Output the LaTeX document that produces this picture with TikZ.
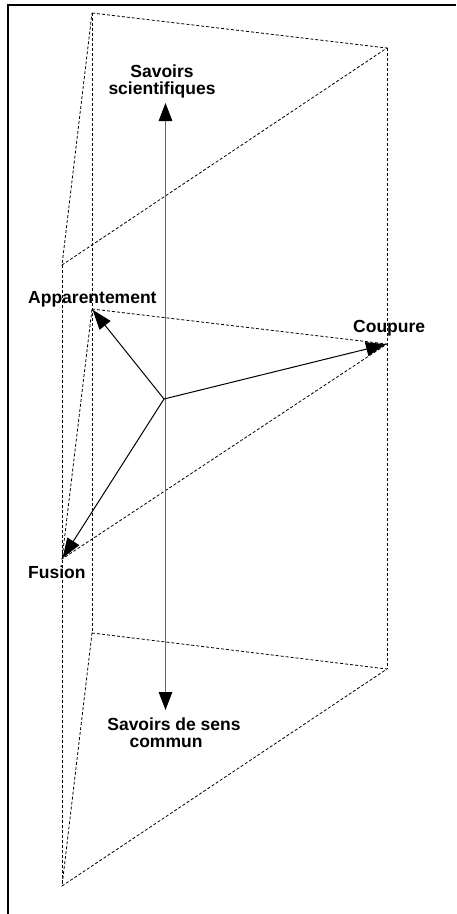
\documentclass[tikz,border=0pt]{standalone}
\usepackage{fontspec}
\setmainfont{Liberation Sans}
\usetikzlibrary{arrows.meta}
\begin{document}
\begin{tikzpicture}[x=1pt,y=-1pt,
  guide/.style={line width=0.8pt,dash pattern=on 3pt off 2pt,black},
  vec/.style={line width=1pt,-{Triangle[length=20pt,width=14pt]}},
  axis/.style={line width=1.3pt,black!60,{Triangle[length=18pt,width=13.5pt,color=black]}-{Triangle[length=18pt,width=13.5pt,color=black]}},
  lbl/.style={inner sep=0pt,font=\fontsize{17.5}{16.5}\selectfont\bfseries},
  frame/.style={line width=1.4pt}]
\useasboundingbox (0,0) rectangle (456,914);
% frame (only top and left edges visible)
\draw[frame] (456,5) -- (8,5) -- (8,914);
% prism corners
\coordinate (At) at (92,13);
\coordinate (Ct) at (387,48);
\coordinate (Ft) at (62,265);
\coordinate (Ab) at (92,633);
\coordinate (Cb) at (387,669);
\coordinate (Fb) at (62,886);
\coordinate (A) at (92,309);
\coordinate (C) at (387,344);
\coordinate (F) at (62,559);
\coordinate (O) at (164,399);
% dashed prism
\draw[guide] (At) -- (Ct) -- (Ft) -- cycle;
\draw[guide] (Ab) -- (Cb) -- (Fb) -- cycle;
\draw[guide] (A) -- (C) -- (F) -- cycle;
\draw[guide] (At) -- (Ab);
\draw[guide] (Ct) -- (Cb);
\draw[guide] (Ft) -- (Fb);
% axis
\coordinate (axT) at (165.5,103);
\coordinate (axB) at (165.5,710);
\draw[axis] (axB) -- (axT);
% vectors
\draw[vec,shorten >=1pt] (O) -- (A);
\draw[vec,shorten >=1pt] (O) -- (C);
\draw[vec,shorten >=1pt] (O) -- (F);
% labels (base anchor = baseline of the last line)
\node[lbl,anchor=base,align=center] (ss) at (162,94) {Savoirs\\scientifiques};
\node[lbl,anchor=base,align=center] (sc) at (174,747) {Savoirs de sens\\commun\hspace*{16pt}};
\node[lbl,anchor=base west] (ap) at (28,303) {Apparentement};
\node[lbl,anchor=base west] (co) at (353,332) {Coupure};
\node[lbl,anchor=base west] (fu) at (28,578) {Fusion};
\end{tikzpicture}
\end{document}
